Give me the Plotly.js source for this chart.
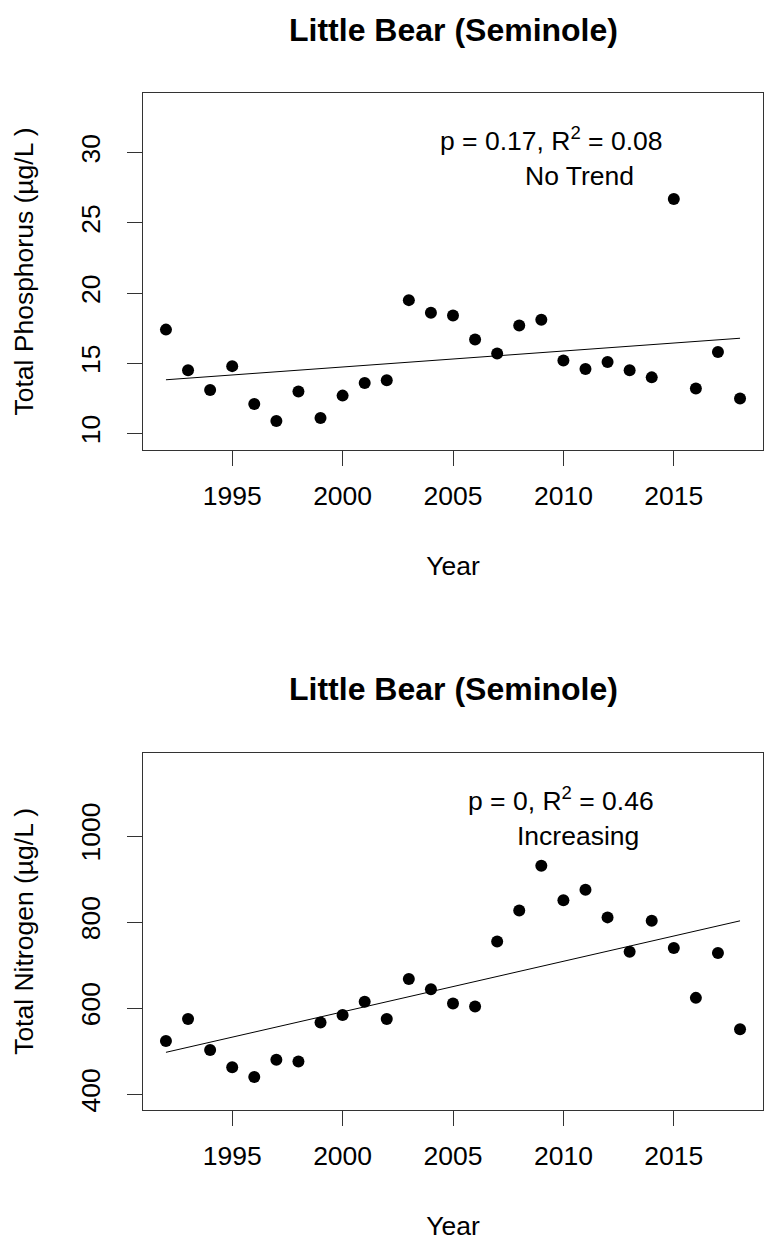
<!DOCTYPE html>
<html>
<head>
<meta charset="utf-8">
<script src="https://cdn.plot.ly/plotly-3.0.1.min.js"></script>
<style>html,body{margin:0;padding:0;background:#fff;}#chart{width:769px;height:1243px;}</style>
</head>
<body>
<div id="chart"></div>
<script>
const years = [1992, 1993, 1994, 1995, 1996, 1997, 1998, 1999, 2000, 2001, 2002, 2003, 2004, 2005,
               2006, 2007, 2008, 2009, 2010, 2011, 2012, 2013, 2014, 2015, 2016, 2017, 2018];
const phosphorus = [17.4, 14.5, 13.1, 14.8, 12.1, 10.9, 13.0, 11.1, 12.7, 13.6, 13.8, 19.5, 18.6, 18.4,
                    16.7, 15.7, 17.7, 18.1, 15.2, 14.6, 15.1, 14.5, 14.0, 26.7, 13.2, 15.8, 12.5];
const nitrogen = [524, 575, 503, 463, 440, 480, 476, 567, 584, 615, 575, 668, 644, 611,
                  604, 755, 827, 931, 851, 875, 811, 731, 803, 740, 624, 728, 551];
const yearTicks = [1995, 2000, 2005, 2010, 2015];
const tpTicks = [10, 15, 20, 25, 30];
const tnTicks = [400, 600, 800, 1000];
const panelTitle = 'Little Bear (Seminole)';
const tpStats = 'p = 0.17, R<sup>2</sup> = 0.08';
const tpTrend = 'No Trend';
const tnStats = 'p = 0, R<sup>2</sup> = 0.46';
const tnTrend = 'Increasing';

function fitted(x, y) {
  const n = x.length;
  const mx = x.reduce((a, b) => a + b, 0) / n;
  const my = y.reduce((a, b) => a + b, 0) / n;
  let sxy = 0, sxx = 0;
  for (let i = 0; i < n; i++) { sxy += (x[i] - mx) * (y[i] - my); sxx += (x[i] - mx) * (x[i] - mx); }
  const b = sxy / sxx, a = my - b * mx;
  return x.map(v => a + b * v);
}

const FONT = 'Liberation Sans, Arial, sans-serif';
const FS = 26.5;

const traces = [
  {x: years, y: phosphorus, xaxis: 'x', yaxis: 'y', type: 'scatter', mode: 'markers',
   marker: {size: 12, color: '#000'}, hoverinfo: 'x+y'},
  {x: years, y: fitted(years, phosphorus), xaxis: 'x', yaxis: 'y', type: 'scatter', mode: 'lines',
   line: {color: '#000', width: 1}, hoverinfo: 'skip'},
  {x: years, y: nitrogen, xaxis: 'x2', yaxis: 'y2', type: 'scatter', mode: 'markers',
   marker: {size: 12, color: '#000'}, hoverinfo: 'x+y'},
  {x: years, y: fitted(years, nitrogen), xaxis: 'x2', yaxis: 'y2', type: 'scatter', mode: 'lines',
   line: {color: '#000', width: 1}, hoverinfo: 'skip'}
];

function xAxis(anchor) {
  return {
    anchor: anchor, domain: [0, 1], range: [1990.96, 2019.04],
    tickmode: 'array', tickvals: yearTicks, ticktext: yearTicks.map(String),
    ticks: 'outside', ticklen: 15, tickwidth: 1, tickcolor: '#333', ticklabelstandoff: 7,
    showline: true, mirror: true, linecolor: '#333', linewidth: 1,
    showgrid: false, zeroline: false, automargin: false,
    tickfont: {family: FONT, size: FS, color: '#000'},
    title: {text: 'Year', font: {family: FONT, size: FS, color: '#000'}, standoff: 46}
  };
}
function yAxis(anchor, domain, range, ticks, label) {
  return {
    anchor: anchor, domain: domain, range: range,
    tickmode: 'array', tickvals: ticks, ticktext: ticks.map(String), tickangle: -90,
    ticks: 'outside', ticklen: 15, tickwidth: 1, tickcolor: '#333', ticklabelstandoff: 16,
    showline: true, mirror: true, linecolor: '#333', linewidth: 1,
    showgrid: false, zeroline: false, automargin: false,
    tickfont: {family: FONT, size: FS, color: '#000'},
    title: {text: label, font: {family: FONT, size: FS, color: '#000'}, standoff: 35}
  };
}

const layout = {
  width: 769, height: 1243,
  margin: {l: 143, r: 6, t: 93, b: 133, pad: 0},
  paper_bgcolor: '#fff', plot_bgcolor: '#fff',
  showlegend: false,
  font: {family: FONT, size: FS, color: '#000'},
  xaxis: xAxis('y'),
  yaxis: yAxis('x', [0.649, 1], [8.83, 34.25], tpTicks, 'Total Phosphorus (µg/L )'),
  xaxis2: xAxis('y2'),
  yaxis2: yAxis('x2', [0, 0.3513], [363.5, 1193.5], tnTicks, 'Total Nitrogen (µg/L )'),
  annotations: [
    {text: '<b>' + panelTitle + '</b>', xref: 'paper', yref: 'paper', x: 0.5, y: 1.0619,
     xanchor: 'center', yanchor: 'middle', showarrow: false, font: {family: FONT, size: 32, color: '#000'}},
    {text: '<b>' + panelTitle + '</b>', xref: 'paper', yref: 'paper', x: 0.5, y: 0.4139,
     xanchor: 'center', yanchor: 'middle', showarrow: false, font: {family: FONT, size: 32, color: '#000'}},
    {text: tpStats, xref: 'x', yref: 'y', x: 2009.44, y: 30.96, xanchor: 'center', yanchor: 'middle',
     showarrow: false, font: {family: FONT, size: FS, color: '#000'}},
    {text: tpTrend, xref: 'x', yref: 'y', x: 2010.75, y: 28.31, xanchor: 'center', yanchor: 'middle',
     showarrow: false, font: {family: FONT, size: FS, color: '#000'}},
    {text: tnStats, xref: 'x2', yref: 'y2', x: 2009.88, y: 1085.9, xanchor: 'center', yanchor: 'middle',
     showarrow: false, font: {family: FONT, size: FS, color: '#000'}},
    {text: tnTrend, xref: 'x2', yref: 'y2', x: 2010.65, y: 1001.2, xanchor: 'center', yanchor: 'middle',
     showarrow: false, font: {family: FONT, size: FS, color: '#000'}}
  ]
};

Plotly.newPlot('chart', traces, layout, {displayModeBar: false, staticPlot: true});
</script>
</body>
</html>
